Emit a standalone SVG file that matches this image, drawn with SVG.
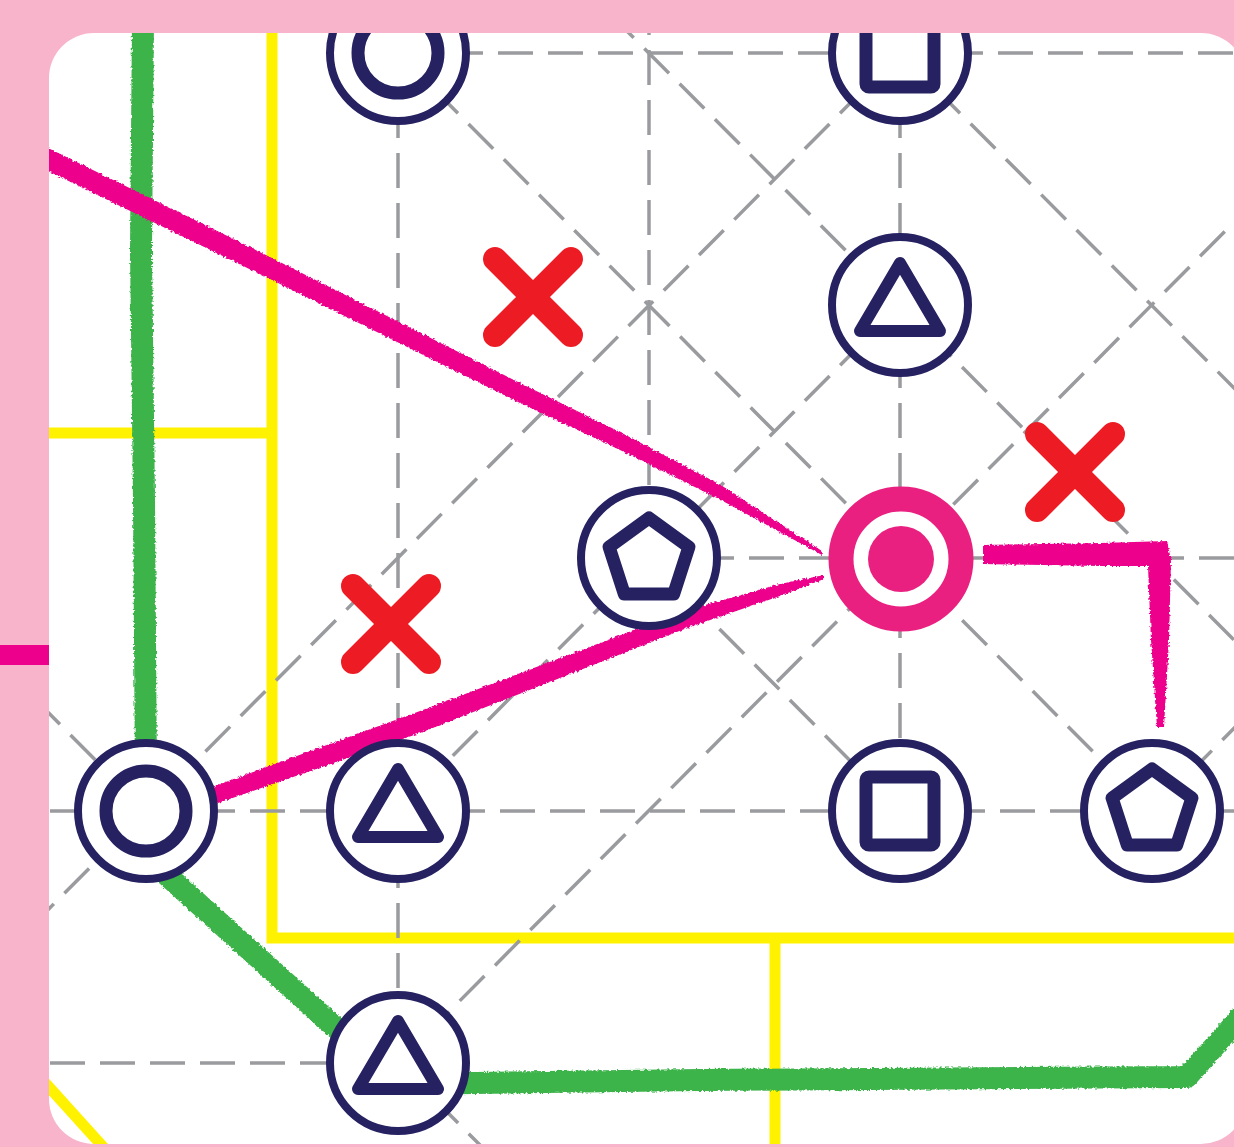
<svg xmlns="http://www.w3.org/2000/svg" width="1234" height="1147" viewBox="0 0 1234 1147">
<style>
.d{stroke:#9a9b9e;stroke-width:3.5;stroke-dasharray:35 15;fill:none}
.y{stroke:#fff200;stroke-width:11;fill:none;stroke-linejoin:miter}
.g{stroke:#3cb44a;stroke-width:22;fill:none;stroke-linejoin:round}
.m{fill:#ec008c}
.ring{fill:#fff;stroke:#262262;stroke-width:8}
.sym{fill:none;stroke:#262262;stroke-linejoin:round}
.x{stroke:#ed1c24;stroke-width:24;stroke-linecap:round}
</style>
<defs>
<clipPath id="card"><rect x="49" y="33" width="1197" height="1111" rx="45"/></clipPath>
<filter id="rough" filterUnits="userSpaceOnUse" x="0" y="0" width="1234" height="1147">
<feTurbulence type="fractalNoise" baseFrequency="0.4" numOctaves="2" seed="4"/>
<feDisplacementMap in="SourceGraphic" scale="4" xChannelSelector="R" yChannelSelector="G"/>
</filter>
<polygon id="pent" points="0,-42 39.9,-13 24.7,34 -24.7,34 -39.9,-13"/>
<path id="tri" d="M0,-42 L40,26 L-40,26 Z"/>
</defs>
<rect width="1234" height="1147" fill="#f8b4ca"/>
<rect x="0" y="645" width="49" height="20" fill="#ec008c"/>
<rect x="49" y="33" width="1197" height="1111" rx="45" fill="#fff"/>
<g clip-path="url(#card)">
<g id="yellow">
<path class="y" d="M272,0 V938 H1260"/>
<path class="y" d="M0,433 H272"/>
<path class="y" d="M775,938 V1160"/>
<path class="y" d="M20,1055 L115,1160"/>
</g>
<g id="grid">
<line class="d" x1="398" y1="53" x2="1260" y2="53"/>
<line class="d" x1="649" y1="558" x2="1260" y2="558"/>
<line class="d" x1="0" y1="811" x2="1260" y2="811"/>
<line class="d" x1="0" y1="1063" x2="398" y2="1063"/>
<line class="d" x1="398" y1="53" x2="398" y2="1063"/>
<line class="d" x1="649" y1="0" x2="649" y2="558"/>
<line class="d" x1="900" y1="53" x2="900" y2="811"/>
<line class="d" x1="609" y1="13" x2="1260" y2="666"/>
<line class="d" x1="398" y1="53" x2="1152" y2="811"/>
<line class="d" x1="649" y1="558" x2="900" y2="811"/>
<line class="d" x1="900" y1="53" x2="1260" y2="414"/>
<line class="d" x1="0" y1="664" x2="146" y2="811"/>
<line class="d" x1="398" y1="1063" x2="498" y2="1163"/>
<line class="d" x1="900" y1="53" x2="0" y2="958"/>
<line class="d" x1="900" y1="305" x2="398" y2="811"/>
<line class="d" x1="1260" y1="196" x2="398" y2="1063"/>
<line class="d" x1="1152" y1="811" x2="1260" y2="702"/>
</g>
<g id="connectors" filter="url(#rough)">
<path class="g" d="M143,20 L141,250 L144,500 L146,780"/>
<path class="g" d="M150,860 L398,1084 L700,1080 L1187,1077 L1256,1000"/>
<polygon class="m" points="40,144 270,257 520,383 620,432 720,484.5 822,551 822,555 720,499.5 620,450 520,403 270,279 40,167"/>
<polygon class="m" points="205,789.5 420,711 687,610 780,584 824,575 824,579 780,596 687,628 420,733 205,807.5"/>
<polygon class="m" points="983,545 1100,543 1167,541 1171,560 1169,640 1164,727 1157,727 1151,640 1148,566 1100,566 983,564"/>
</g>
<g id="nodes">
<g id="n-circle-top" transform="translate(398,53)"><circle class="ring" r="68"/><circle class="sym" r="40" stroke-width="13"/></g>
<g id="n-square-top" transform="translate(900,53)"><circle class="ring" r="68"/><rect class="sym" x="-34" y="-34" width="68" height="68" rx="3" stroke-width="13"/></g>
<g id="n-triangle-r1" transform="translate(900,305)"><circle class="ring" r="68"/><use href="#tri" class="sym" stroke-width="12"/></g>
<g id="n-pentagon-mid" transform="translate(649,558)"><circle class="ring" r="68"/><use href="#pent" class="sym" stroke-width="13" transform="translate(0,2)"/></g>
<g id="n-target" transform="translate(901,559)"><circle r="60" fill="#fff" stroke="#ea2080" stroke-width="25"/><circle r="33" fill="#ea2080"/></g>
<g id="n-circle-left" transform="translate(146,811)"><circle class="ring" r="68"/><circle class="sym" r="40" stroke-width="13"/></g>
<g id="n-triangle-r3" transform="translate(398,811)"><circle class="ring" r="68"/><use href="#tri" class="sym" stroke-width="12"/></g>
<g id="n-square-r3" transform="translate(900,811)"><circle class="ring" r="68"/><rect class="sym" x="-34" y="-34" width="68" height="68" rx="3" stroke-width="13"/></g>
<g id="n-pentagon-r3" transform="translate(1152,811)"><circle class="ring" r="68"/><use href="#pent" class="sym" stroke-width="13"/></g>
<g id="n-triangle-r4" transform="translate(398,1063)"><circle class="ring" r="68"/><use href="#tri" class="sym" stroke-width="12"/></g>
</g>
</g>
<g id="marks">
<g transform="translate(533,297)"><line class="x" x1="-38" y1="-38" x2="38" y2="38"/><line class="x" x1="38" y1="-38" x2="-38" y2="38"/></g>
<g transform="translate(391,624)"><line class="x" x1="-38" y1="-38" x2="38" y2="38"/><line class="x" x1="38" y1="-38" x2="-38" y2="38"/></g>
<g transform="translate(1075,472)"><line class="x" x1="-38" y1="-38" x2="38" y2="38"/><line class="x" x1="38" y1="-38" x2="-38" y2="38"/></g>
</g>
</svg>
